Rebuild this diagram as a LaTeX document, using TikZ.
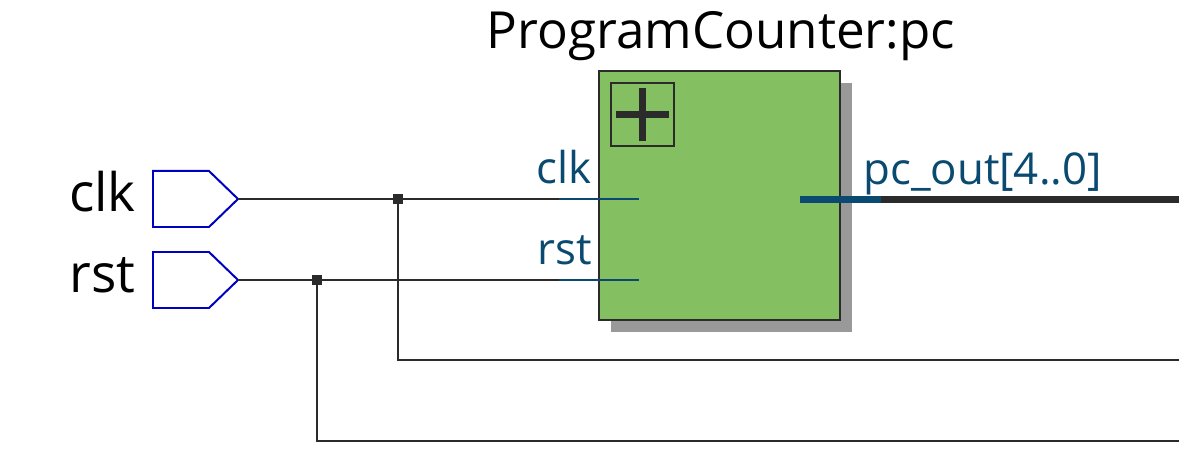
\documentclass[tikz,border=0pt]{standalone}
\usepackage{fontspec}
\setmainfont{Open Sans}
\definecolor{wire}{HTML}{2B2B2B}
\definecolor{port}{HTML}{0A4A70}
\definecolor{blockgreen}{HTML}{84C062}
\definecolor{pinblue}{HTML}{0000C0}
\definecolor{shadowgray}{HTML}{999999}
\tikzset{
 x=0.02646cm,y=-0.02646cm,
 wireline/.style={draw=wire,line width=1.5pt},
 portline/.style={draw=port,line width=1.5pt},
 busline/.style={line width=5.2pt},
 blockbox/.style={draw=wire,line width=1.5pt,rectangle,inner sep=0pt,outer sep=0pt},
 inpin/.style={draw=pinblue,fill=white,line width=1.5pt},
 junction/.style={fill=wire,inner sep=0pt,outer sep=0pt,minimum size=7.5pt,draw=none,rectangle},
 pintext/.style={font=\fontsize{40pt}{40pt}\selectfont,text=black,anchor=base east,inner sep=0pt},
 porttext/.style={font=\fontsize{33pt}{33pt}\selectfont,text=port,inner sep=0pt},
}
\begin{document}
\begin{tikzpicture}
\useasboundingbox (0,0) rectangle (1179,454);
\fill[shadowgray] (611,83) rectangle (852,332);
\node[blockbox,fill=blockgreen,minimum width=180.75pt,minimum height=186.75pt] (block) at (719.5,195.5) {};
\node[blockbox,minimum size=47.25pt] (expand) at (642.5,114.5) {};
\draw[wire,busline] (616,114.5) -- (669,114.5);
\draw[wire,busline] (642.5,88) -- (642.5,141);
\node[font=\fontsize{38.5pt}{38.5pt}\selectfont,anchor=base,inner sep=0pt] (title) at (721,49) {ProgramCounter:pc};
\path[inpin] (153,171) -- (209,171) -- (238,199) -- (209,227) -- (153,227) -- cycle;
\path[inpin] (153,252) -- (209,252) -- (238,280) -- (209,308) -- (153,308) -- cycle;
\coordinate (clkpin) at (238,199);
\coordinate (rstpin) at (238,280);
\node[pintext] (clklabel) at (136,212) {clk};
\node[pintext] (rstlabel) at (136,293) {rst};
\node[porttext,anchor=base east] (clkport) at (592,184) {clk};
\node[porttext,anchor=base east] (rstport) at (592,265) {rst};
\node[porttext,anchor=base west] (pcport) at (863,185) {pc\_out[4..0]};
\coordinate (clkin) at (639,199);
\coordinate (rstin) at (639,280);
\coordinate (clkj) at (398,199);
\coordinate (rstj) at (317,280);
\coordinate (clkmid) at (559,199);
\coordinate (rstmid) at (559,280);
\coordinate (clkend) at (1179,360);
\coordinate (rstend) at (1179,441);
\draw[wireline] (clkpin) -- (clkmid);
\draw[portline] (clkmid) -- (clkin);
\draw[wireline] (rstpin) -- (rstmid);
\draw[portline] (rstmid) -- (rstin);
\draw[wireline] (clkj) |- (clkend);
\draw[wireline] (rstj) |- (rstend);
\node[junction] (cj) at (clkj) {};
\node[junction] (rj) at (rstj) {};
\coordinate (busa) at (800,199.3);
\coordinate (busb) at (881,199.3);
\coordinate (busc) at (1179,199.3);
\draw[wire,busline] (busb) -- (busc);
\draw[port,busline] (busa) -- (busb);
\end{tikzpicture}
\end{document}
